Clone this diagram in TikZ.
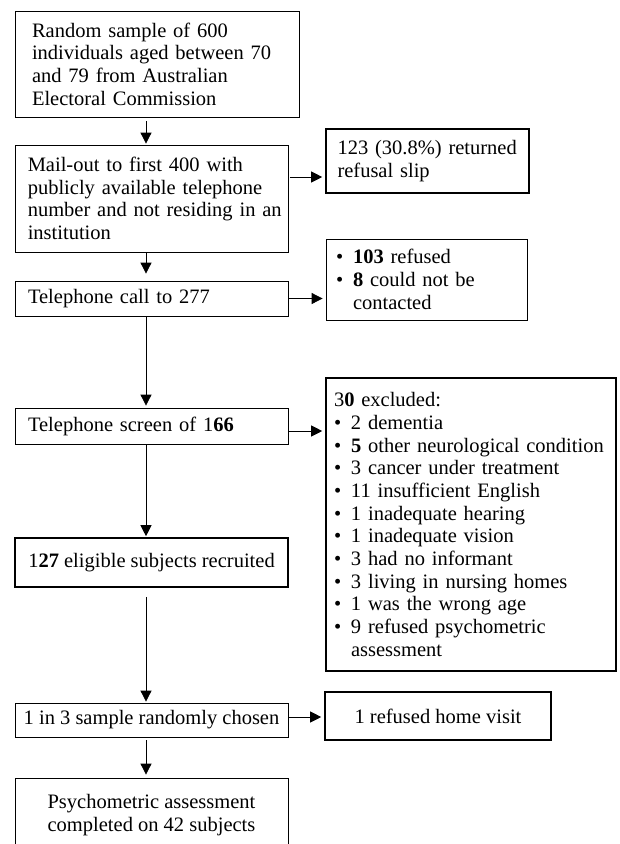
\documentclass[tikz,border=0pt]{standalone}
\usepackage{fontspec}
\setmainfont{Liberation Serif}
\usetikzlibrary{arrows.meta,positioning,calc}

% bullet mark and the indent of a continued bullet line
\newcommand{\itm}{\makebox[17pt][l]{\textbullet}}
\newcommand{\cont}{\hspace*{17pt}}

\begin{document}
\begin{tikzpicture}[
    x=1pt, y=1pt,
    font=\fontsize{20.5}{22.7}\selectfont,
    >={Triangle[length=11pt,width=11pt]},
    block/.style={rectangle, draw=black, line width=0.8pt,
                  inner sep=0pt, align=left},
    heavy/.style={block, line width=1.6pt},
    arrow/.style={->, line width=0.8pt}
]
\clip (0,0) rectangle (619,-844);

%–––– MAIN FLOW –––––––––––––––––––––––––––––––––––––
\node (sample)   [block, minimum width=284, minimum height=106, text width=250] at (157,-64)
  {Random sample of 600\\individuals aged between 70\\and 79 from Australian\\Electoral Commission};
\node (mail)     [block, minimum width=273.5, minimum height=107, text width=248] at (151.75,-198.5)
  {Mail-out to first 400 with\\publicly available telephone\\%
   \makebox[248pt][l]{number and not residing in an}\\institution};
\node (call)     [block, minimum width=273, minimum height=35, text width=247] at (151.5,-298.5)
  {Telephone call to 277};
\node (screen)   [block, minimum width=273, minimum height=36, text width=247] at (151.5,-426)
  {Telephone screen of 1\textbf{66}};
\node (eligible) [heavy, align=center, minimum width=273, minimum height=49] at (151.5,-562.5)
  {1\textbf{27} eligible subjects recruited};
\node (chosen)   [block, align=center, minimum width=273, minimum height=34] at (151.5,-720)
  {1 in 3 sample randomly chosen};
\node (assess)   [block, align=center, minimum width=273, minimum height=74] at (151.5,-815)
  {Psychometric assessment\\completed on 42 subjects};

%–––– LOSSES ––––––––––––––––––––––––––––––––––––––––
\node (slip)    [heavy, minimum width=203, minimum height=64, text width=180] at (427.5,-161)
  {\makebox[180pt][l]{123 (30.8\%) returned}\\refusal slip};
\node (refused) [block, minimum width=201, minimum height=81, text width=181] at (426.5,-279.5)
  {\itm\textbf{103} refused\\
   \itm\textbf{8} could not be\\
   \cont contacted};
\node (excl)    [heavy, minimum width=290, minimum height=293, text width=274] at (471,-524.5)
  {3\textbf{0} excluded:\\
   \itm 2 dementia\\
   \itm\textbf{5} other neurological condition\\
   \itm 3 cancer under treatment\\
   \itm 11 insufficient English\\
   \itm 1 inadequate hearing\\
   \itm 1 inadequate vision\\
   \itm 3 had no informant\\
   \itm 3 living in nursing homes\\
   \itm 1 was the wrong age\\
   \itm 9 refused psychometric\\
   \cont assessment};
\node (visit)   [heavy, align=center, minimum width=226, minimum height=48] at (438,-716)
  {1 refused home visit};

%–––– CONNECTORS ––––––––––––––––––––––––––––––––––––
\coordinate (spine) at (146,0);
\foreach \a/\b/\s/\e in {sample/mail/4pt/1pt, mail/call/0pt/7pt, call/screen/0pt/2pt,
                         screen/eligible/0pt/1pt, eligible/chosen/9pt/1pt, chosen/assess/3pt/3pt}
  \draw[arrow, shorten <=\s, shorten >=\e] (\a.south -| spine) -- (\b.north -| spine);

\foreach \a/\b/\dy in {mail/slip/21.5, call/refused/0, screen/excl/-5, chosen/visit/3}
  \draw[arrow, shorten <=1pt, shorten >=3pt]
    ($(\a.east)+(0,\dy)$) -- ($(\a.east -| \b.west)+(0,\dy)$);
\end{tikzpicture}
\end{document}
